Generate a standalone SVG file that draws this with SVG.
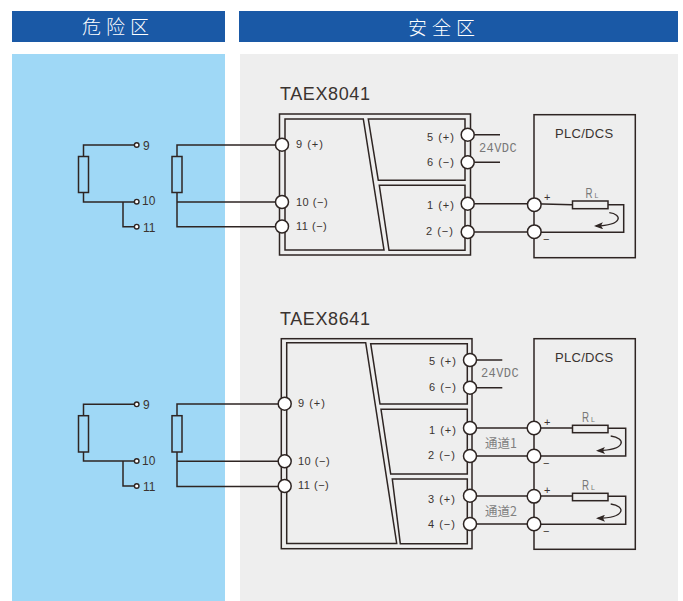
<svg xmlns="http://www.w3.org/2000/svg" width="683" height="601" viewBox="0 0 683 601">
<style>
.w{fill:none;stroke:#2e2523;stroke-width:1.5}
.t{fill:#fff;stroke:#2e2523;stroke-width:1.5}
.s{fill:#fff;stroke:#2e2523;stroke-width:1.4}
.r{fill:none;stroke:#2e2523;stroke-width:1.5}
.rb{fill:#9fd8f6;stroke:#2e2523;stroke-width:1.5}
.rg{fill:#eeeeee;stroke:#2e2523;stroke-width:1.5}
text{font-family:"Liberation Sans","Noto Sans CJK SC",sans-serif;fill:#3a3330}
.h{font-family:"Noto Sans CJK SC",sans-serif;font-size:19px;font-weight:300;fill:#fff;letter-spacing:5px}
.m{font-size:18px;letter-spacing:.6px}
.l{font-size:11px;letter-spacing:1px}
.l2{font-size:11px;letter-spacing:.5px}
.n{font-size:12px}
.g{font-size:12px;fill:#777;letter-spacing:.4px;font-family:"Liberation Mono",monospace}
.c{font-size:12.5px;fill:#808080;font-family:"Noto Sans CJK SC",sans-serif}
.p{font-size:13px;letter-spacing:.3px}
.q{font-size:15px;fill:#777}
.q2{font-size:7px;fill:#777}
.a{fill:none;stroke:#2e2523;stroke-width:1.300}
</style>
<defs>
<marker id="a" viewBox="0 0 9 7" refX="7" refY="3.500" markerWidth="9" markerHeight="7" orient="auto" markerUnits="userSpaceOnUse"><path d="M0 0L9 3.500L0 7L2 3.500Z" fill="#2e2523"/></marker>
</defs>
<g id="zones">
<rect x="12" y="11" width="213" height="31" fill="#1a59a6"/>
<rect x="239" y="11" width="439" height="31" fill="#1a59a6"/>
<rect x="12" y="54" width="213" height="547" fill="#9fd8f6"/>
<rect x="240" y="54" width="438" height="547" fill="#eeeeee"/>
<text class="h" x="82" y="34">危险区</text>
<text class="h" x="408" y="35">安全区</text>
</g>
<g id="module-1">
<rect class="w" x="279.500" y="114" width="191" height="141"/>
<path class="w" d="M285 250V119H363.300L384 250Z"/>
<path class="w" d="M368.300 119H465V180.300H378.300Z"/>
<path class="w" d="M379.300 185.300H465V250.300H389Z"/>
<text class="m" x="280" y="100">TAEX8041</text>
</g>
<g id="module-2">
<rect class="w" x="281.300" y="338.700" width="190.700" height="210"/>
<path class="w" d="M286.700 543.500V342.700H365.700L396.700 543.500Z"/>
<path class="w" d="M370.700 343.700H467.300V404H380Z"/>
<path class="w" d="M381 409.300H467.300V474H390.700Z"/>
<path class="w" d="M392.300 479H467.300V543.700H400.300Z"/>
<text class="m" x="280" y="325">TAEX8641</text>
</g>
<g id="plc-1">
<rect class="r" x="534" y="114.700" width="101.300" height="143"/>
<text class="p" x="555" y="138">PLC/DCS</text>
</g>
<g id="plc-2">
<rect class="r" x="534" y="338.700" width="101.300" height="210.600"/>
<text class="p" x="555" y="362">PLC/DCS</text>
</g>
<g id="connectors">
<path class="w" d="M83.500 156V145H136M83.500 193V202H136M123 202V226.700H136"/>
<path class="w" d="M177 156V145H282M177 193V226.700H282M177 202H282"/>
<path class="w" d="M83.500 415V404.300H136M83.500 452V461H136M123 461V486H136"/>
<path class="w" d="M177 415V404H285M177 452V486.500H285M177 461.300H285"/>
<path class="w" d="M468 134.700H500M468 162.300H500M468 203.700H534L572 204.700M608 204.700H623.700V232.300H534M468 232H534"/>
<path class="w" d="M470 360H502.300M470 387.700H502.300M470 428H534H572M608 428.300H625.700V456H534M470 456H534M470 496H534H572M608 496.300H625.700V524.300H534M470 524H534"/>
<path class="a" marker-end="url(#a)" d="M609.300 212.700C622 214 624 225 596 226"/>
<path class="a" marker-end="url(#a)" d="M610.700 436C626 438 627 450 598 450.700"/>
<path class="a" marker-end="url(#a)" d="M610.700 504C626 506 626 518 598 518.300"/>
</g>
<g id="resistors">
<rect class="rb" x="78.500" y="156.500" width="10" height="36"/>
<rect class="rb" x="172" y="156.500" width="10" height="36"/>
<rect class="rb" x="78.500" y="415.700" width="10" height="36.300"/>
<rect class="rb" x="172" y="415.700" width="10" height="36.300"/>
<rect class="rg" x="572.500" y="201" width="35.500" height="7.700"/>
<rect class="rg" x="572.500" y="425.300" width="35.500" height="7.400"/>
<rect class="rg" x="572.500" y="493.300" width="35.500" height="7.400"/>
</g>
<g id="terminals-hazard">
<circle class="s" cx="136.700" cy="145" r="2.300"/><circle class="s" cx="136.700" cy="201.700" r="2.300"/><circle class="s" cx="136.700" cy="226.700" r="2.300"/>
<circle class="s" cx="136.700" cy="404.300" r="2.300"/><circle class="s" cx="136.700" cy="461" r="2.300"/><circle class="s" cx="136.700" cy="486" r="2.300"/>
<text class="n" x="143" y="150">9</text><text class="n" x="142" y="205">10</text><text class="n" x="143" y="232">11</text>
<text class="n" x="143" y="409">9</text><text class="n" x="142" y="465">10</text><text class="n" x="143" y="491">11</text>
</g>
<g id="terminals-1">
<circle class="t" cx="282" cy="144.700" r="6.500"/><circle class="t" cx="282" cy="202" r="6.500"/><circle class="t" cx="282" cy="226.500" r="6.500"/>
<circle class="t" cx="467.700" cy="134.700" r="6.500"/><circle class="t" cx="467.700" cy="162.300" r="6.500"/><circle class="t" cx="467.700" cy="203.700" r="6.500"/><circle class="t" cx="467.700" cy="232" r="6.500"/>
<circle class="t" cx="534.300" cy="204.700" r="6.800"/><circle class="t" cx="534.300" cy="231.700" r="6.800"/>
<text class="l" x="296" y="148">9 (+)</text><text class="l2" x="296" y="206">10 (−)</text><text class="l2" x="296" y="230">11 (−)</text>
<text class="l" x="427" y="141">5 (+)</text><text class="l" x="427" y="166">6 (−)</text><text class="l" x="427" y="209">1 (+)</text><text class="l" x="426" y="235">2 (−)</text>
<text class="g" x="479" y="152">24VDC</text>
<text class="l" x="544" y="201">+</text><text class="l" x="543" y="243">−</text>
<text class="q" transform="translate(585.500 198) scale(.65 1)">R</text><text class="q2" x="594.500" y="198">L</text>
</g>
<g id="terminals-2">
<circle class="t" cx="284.700" cy="403.700" r="6.500"/><circle class="t" cx="284.700" cy="461.300" r="6.500"/><circle class="t" cx="284.700" cy="486" r="6.500"/>
<circle class="t" cx="470" cy="360" r="6.500"/><circle class="t" cx="470" cy="387.700" r="6.500"/><circle class="t" cx="470" cy="428" r="6.500"/><circle class="t" cx="470" cy="456" r="6.500"/><circle class="t" cx="470" cy="495.700" r="6.500"/><circle class="t" cx="470" cy="524" r="6.500"/>
<circle class="t" cx="534" cy="428" r="6.800"/><circle class="t" cx="534" cy="456" r="6.800"/><circle class="t" cx="534" cy="496.300" r="6.800"/><circle class="t" cx="534" cy="524" r="6.800"/>
<text class="l" x="298" y="407">9 (+)</text><text class="l2" x="298" y="465">10 (−)</text><text class="l2" x="298" y="489">11 (−)</text>
<text class="l" x="429" y="365">5 (+)</text><text class="l" x="429" y="391">6 (−)</text><text class="l" x="429" y="434">1 (+)</text><text class="l" x="428" y="459">2 (−)</text><text class="l" x="428" y="503">3 (+)</text><text class="l" x="428" y="528">4 (−)</text>
<text class="g" x="481" y="377">24VDC</text>
<text class="c" x="485" y="448">通道1</text><text class="c" x="485" y="516">通道2</text>
<text class="l" x="544" y="426">+</text><text class="l" x="543" y="467">−</text><text class="l" x="544" y="494">+</text><text class="l" x="543" y="535">−</text>
<text class="q" transform="translate(582 422) scale(.65 1)">R</text><text class="q2" x="591" y="422">L</text>
<text class="q" transform="translate(582 490) scale(.65 1)">R</text><text class="q2" x="591" y="490">L</text>
</g>
</svg>
